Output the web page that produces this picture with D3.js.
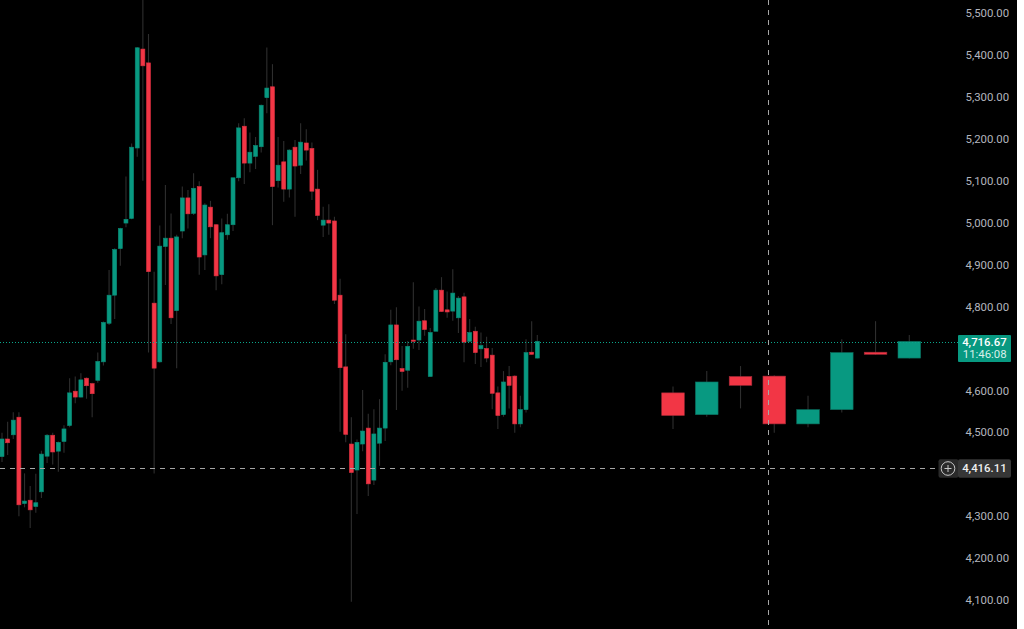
<!DOCTYPE html>
<html>
<head>
<meta charset="utf-8">
<script src="https://cdn.jsdelivr.net/npm/d3@7"></script>
<style>
  html, body { margin: 0; padding: 0; background: #fff; overflow: hidden; }
  svg { display: block; background: #000; }
  text { font-family: Roboto, "Open Sans", sans-serif; }
</style>
</head>
<body>
<svg width="1017" height="629"></svg>
<script>
// Main run of candles
const opens = [4442,4484,4494,4536,4330,4338,4323,4358,4443,4493,4455,4478,4516,4598,4584,4629,4616,4624,4668,4760,
  4827,4938,4999,5010,5178,5414,5381,4808,4668,4943,4963,4790,4980,5059,5022,5086,4923,5037,4995,4876,
  4971,4995,5107,5230,5142,5158,5181,5298,5324,5100,5145,5080,5180,5137,5190,5177,5080,4994,5006,5004,
  4827,4656,4472,4410,4472,4510,4386,4474,4510,4668,4756,4652,4648,4720,4720,4766,4633,4741,4839,4792,
  4789,4773,4823,4717,4741,4699,4700,4684,4594,4542,4633,4634,4520,4554,4691,4677];
const highs = [4499,4525,4548,4548,4402,4372,4401,4456,4496,4499,4478,4517,4629,4633,4641,4631,4618,4690,4764,4887,
  4939,4988,5110,5189,5419,5540,5450,4883,4993,5090,5022,4971,5086,5078,5118,5099,5046,5052,4997,5010,
  5021,5107,5237,5249,5215,5204,5282,5418,5378,5204,5195,5175,5197,5237,5223,5191,5126,5038,5044,5014,
  4866,4734,4536,4483,4601,4544,4555,4579,4686,4792,4798,4706,4718,4858,4800,4794,4749,4844,4870,4836,
  4889,4825,4833,4770,4752,4738,4728,4701,4609,4646,4658,4636,4587,4722,4765,4732];
const lows = [4429,4446,4484,4300,4321,4272,4308,4343,4427,4423,4406,4451,4512,4569,4583,4580,4536,4618,4659,4756,
  4770,4897,4989,5008,5157,5100,4690,4402,4666,4851,4758,4653,4963,4986,5018,4876,4887,4963,4839,4853,
  4959,4980,5099,5092,5120,5128,5167,5261,4994,5084,5050,5060,5014,5116,5148,5054,5006,4966,4971,4806,
  4501,4476,4096,4305,4455,4348,4374,4420,4479,4660,4553,4599,4606,4699,4696,4730,4633,4741,4787,4773,
  4766,4737,4667,4715,4663,4656,4667,4555,4508,4537,4557,4499,4512,4547,4685,4676];
const closes = [4484,4475,4529,4327,4336,4315,4332,4448,4493,4453,4476,4508,4594,4584,4625,4611,4592,4669,4762,4827,
  4936,4986,5008,5180,5417,5374,4883,4653,4944,4963,4773,4966,5059,5021,5082,4918,5042,4990,4873,4976,
  4995,5107,5226,5142,5168,5184,5280,5321,5086,5137,5080,5173,5135,5192,5173,5075,5017,5006,4999,4815,
  4654,4495,4404,4476,4503,4377,4496,4510,4667,4756,4673,4645,4705,4717,4765,4745,4738,4839,4788,4787,
  4832,4820,4715,4738,4690,4707,4677,4593,4540,4620,4612,4520,4554,4690,4686,4716.67];

// Enlarged candles on the right
const bigOpens = [4594,4542,4633,4634,4520,4554,4691,4677];
const bigHighs = [4609,4646,4658,4636,4587,4722,4765,4732];
const bigLows = [4508,4537,4557,4499,4512,4547,4685,4676];
const bigCloses = [4540,4620,4612,4520,4554,4690,4686,4716.67];

// 4,700 and 4,400 sit behind the two price tags in the picture
const priceTicks = [5500,5400,5300,5200,5100,5000,4900,4800,4600,4500,4300,4200,4100];
const lastPrice = 4716.67;
const countdown = "11:46:08";
const crossPrice = 4416.11;

const upColor = "#089981";
const downColor = "#f23645";
const wickColor = "#2e2e2e";

const svg = d3.select("svg");
const fmt = d3.format(",.2f");

const y = d3.scaleLinear().domain([4100, 5500]).range([600, 13]);
const x = d3.scaleLinear().domain([0, opens.length - 1]).range([2, 537.3]);
const bigX = d3.scaleLinear().domain([0, bigOpens.length - 1]).range([673, 909.3]);

function drawCandles(xs, os, hs, ls, cs, w, upStroke, downStroke) {
  const g = svg.append("g");
  const idx = d3.range(os.length);

  g.selectAll("line").data(idx).enter().append("line")
      .attr("x1", i => xs(i))
      .attr("x2", i => xs(i))
      .attr("y1", i => y(hs[i]))
      .attr("y2", i => y(ls[i]))
      .attr("stroke", wickColor)
      .attr("stroke-width", 1.1);

  g.selectAll("rect").data(idx).enter().append("rect")
      .attr("x", i => xs(i) - w / 2)
      .attr("width", w)
      .attr("y", i => y(Math.max(os[i], cs[i])))
      .attr("height", i => Math.max(1.2, Math.abs(y(os[i]) - y(cs[i]))))
      .attr("fill", i => cs[i] >= os[i] ? upColor : downColor)
      .attr("stroke", i => cs[i] >= os[i] ? upStroke : downStroke)
      .attr("stroke-width", 0.6);
}

drawCandles(x, opens, highs, lows, closes, 4, "#0a8a75", "#d93040");
drawCandles(bigX, bigOpens, bigHighs, bigLows, bigCloses, 22.6, "#0b6e5e", "#a32a38");

// Price axis
const axis = d3.axisRight(y)
    .tickValues(priceTicks)
    .tickSize(0)
    .tickPadding(0)
    .tickFormat(fmt);

const axisG = svg.append("g")
    .attr("transform", "translate(965.5,0)")
    .call(axis);
axisG.select(".domain").remove();
axisG.selectAll("text")
    .attr("fill", "#b2b5be")
    .attr("font-size", "11.4px")
    .attr("font-family", "Roboto, 'Open Sans', sans-serif");

// Lines sit one pixel row under the scale value, as in the picture
const lineY = v => Math.round(y(v)) + 1.5;

// Last price line
svg.append("line")
    .attr("x1", 0).attr("x2", 958)
    .attr("y1", lineY(lastPrice)).attr("y2", lineY(lastPrice))
    .attr("stroke", "#0aa58b")
    .attr("stroke-width", 1)
    .attr("stroke-dasharray", "1 2")
    .attr("shape-rendering", "crispEdges");

// Crosshair
svg.append("line")
    .attr("x1", 0).attr("x2", 939)
    .attr("y1", lineY(crossPrice)).attr("y2", lineY(crossPrice))
    .attr("stroke", "#a6a6a6")
    .attr("stroke-width", 1)
    .attr("stroke-dasharray", "5 5")
    .attr("shape-rendering", "crispEdges");

svg.append("line")
    .attr("x1", 768.5).attr("x2", 768.5)
    .attr("y1", 0).attr("y2", 629)
    .attr("stroke", "#a6a6a6")
    .attr("stroke-width", 1)
    .attr("stroke-dasharray", "5 5")
    .attr("shape-rendering", "crispEdges");

// Last price tag
svg.append("rect")
    .attr("x", 958).attr("y", y(lastPrice) - 6.5)
    .attr("width", 53).attr("height", 27)
    .attr("rx", 1)
    .attr("fill", upColor);

svg.append("text")
    .attr("x", 1006.7).attr("y", y(lastPrice) + 4.6)
    .attr("text-anchor", "end")
    .attr("fill", "#fff")
    .attr("font-size", "11.4px")
    .attr("font-weight", 500)
    .text(fmt(lastPrice));

svg.append("text")
    .attr("x", 1006.7).attr("y", y(lastPrice) + 16.8)
    .attr("text-anchor", "end")
    .attr("fill", "#d7f0ea")
    .attr("font-size", "11.4px")
    .text(countdown);

// Crosshair tag and plus button
const crossY = lineY(crossPrice);

svg.append("rect")
    .attr("x", 938.5).attr("y", crossY - 9.2)
    .attr("width", 20).attr("height", 18.4)
    .attr("rx", 2)
    .attr("fill", "#2a2a2a");

svg.append("circle")
    .attr("cx", 948).attr("cy", crossY)
    .attr("r", 6.8)
    .attr("fill", "none")
    .attr("stroke", "#c8c8c8")
    .attr("stroke-width", 1);

svg.append("path")
    .attr("d", `M944.5,${crossY}H951.5M948,${crossY - 3.5}V${crossY + 3.5}`)
    .attr("stroke", "#c8c8c8")
    .attr("stroke-width", 1);

svg.append("rect")
    .attr("x", 958).attr("y", crossY - 9.2)
    .attr("width", 53).attr("height", 18.4)
    .attr("rx", 2)
    .attr("fill", "#363636");

svg.append("text")
    .attr("x", 1006.7).attr("y", crossY + 3.7)
    .attr("text-anchor", "end")
    .attr("fill", "#f0f0f0")
    .attr("font-size", "11.4px")
    .attr("font-weight", 500)
    .text(fmt(crossPrice));
</script>
</body>
</html>
